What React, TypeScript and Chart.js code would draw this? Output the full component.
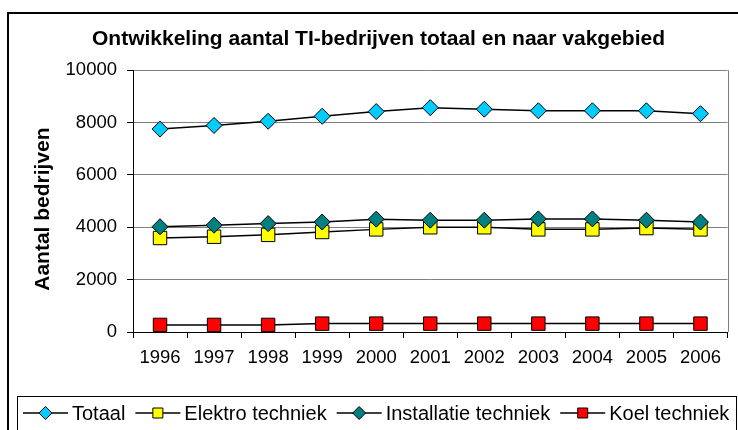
import React, { useEffect, useRef } from "react";
import { Chart, registerables } from "chart.js";

Chart.register(...registerables);

const years = ["1996", "1997", "1998", "1999", "2000", "2001", "2002", "2003", "2004", "2005", "2006"];
const totaal = [7750, 7890, 8050, 8240, 8420, 8570, 8510, 8450, 8450, 8450, 8340];
const elektro = [3590, 3640, 3710, 3820, 3920, 4000, 4000, 3920, 3920, 3970, 3920];
const installatie = [4020, 4080, 4140, 4200, 4310, 4270, 4270, 4320, 4320, 4270, 4200];
const koel = [270, 270, 270, 320, 320, 320, 320, 320, 320, 320, 320];

const seriesNames = ["Totaal", "Elektro techniek", "Installatie techniek", "Koel techniek"];
const seriesColors = ["#00CCFF", "#FFFF00", "#008080", "#FF0000"];
const seriesShapes = ["rectRot", "rect", "rectRot", "rect"];

const titleText = "Ontwikkeling aantal TI-bedrijven totaal en naar vakgebied";
const yTitle = "Aantal bedrijven";
const FONT = "'Liberation Sans', Arial, sans-serif";

const framePlugin = {
  id: "frame",
  afterDraw(chart: any) {
    const ctx = chart.ctx;
    const ca = chart.chartArea;
    ctx.save();
    // plot area right border
    ctx.strokeStyle = "#808080";
    ctx.lineWidth = 1;
    ctx.beginPath();
    ctx.moveTo(Math.round(ca.right) + 0.5, ca.top);
    ctx.lineTo(Math.round(ca.right) + 0.5, ca.bottom);
    ctx.stroke();
    // y axis title
    ctx.save();
    ctx.translate(43, (ca.top + ca.bottom) / 2 + 8);
    ctx.rotate(-Math.PI / 2);
    ctx.font = `bold 21px ${FONT}`;
    ctx.textAlign = "center";
    ctx.textBaseline = "middle";
    ctx.fillStyle = "#000";
    ctx.fillText(yTitle, 0, 0);
    ctx.restore();
    // outer border
    ctx.strokeStyle = "#000";
    ctx.lineWidth = 2;
    ctx.strokeRect(8, 13, 740, 440);
    // legend box
    ctx.lineWidth = 1;
    ctx.strokeRect(17.5, 396.5, 719, 60);
    // legend items
    ctx.font = `20px ${FONT}`;
    ctx.textBaseline = "middle";
    ctx.fillStyle = "#000";
    let x = 23;
    const y = 413;
    for (let i = 0; i < seriesNames.length; i++) {
      ctx.strokeStyle = "#000";
      ctx.lineWidth = 1.5;
      ctx.beginPath();
      ctx.moveTo(x, y);
      ctx.lineTo(x + 45, y);
      ctx.stroke();
      ctx.fillStyle = seriesColors[i];
      ctx.strokeStyle = "#000";
      ctx.lineWidth = 1;
      const cx = x + 22.5;
      ctx.beginPath();
      if (seriesShapes[i] === "rectRot") {
        const r = 6.5;
        ctx.moveTo(cx - r, y);
        ctx.lineTo(cx, y - r);
        ctx.lineTo(cx + r, y);
        ctx.lineTo(cx, y + r);
        ctx.closePath();
      } else {
        ctx.rect(cx - 5, y - 5, 10, 10);
      }
      ctx.fill();
      ctx.stroke();
      ctx.fillStyle = "#000";
      ctx.fillText(seriesNames[i], x + 49, y + 1);
      x += 49 + ctx.measureText(seriesNames[i]).width + 10;
    }
    ctx.restore();
  },
};

export default function App() {
  const ref = useRef<HTMLCanvasElement>(null);
  useEffect(() => {
    if (!ref.current) return;
    const data = [totaal, elektro, installatie, koel];
    const chart = new Chart(ref.current, {
      type: "line",
      data: {
        labels: years,
        datasets: data.map((d, i) => ({
          label: seriesNames[i],
          data: d,
          borderColor: "#000",
          borderWidth: 1.5,
          backgroundColor: seriesColors[i],
          pointBackgroundColor: seriesColors[i],
          pointBorderColor: "#000",
          pointBorderWidth: 1,
          pointStyle: seriesShapes[i] as any,
          pointRadius: seriesShapes[i] === "rect" ? 9.5 : 8,
          tension: 0,
          order: i === 2 ? 0 : i + 1,
        })),
      },
      options: {
        responsive: false,
        animation: false,
        layout: { padding: { left: 24, right: 5, top: 10, bottom: 0 } },
        plugins: {
          legend: { display: false },
          tooltip: { enabled: false },
          title: {
            display: true,
            text: titleText,
            color: "#000",
            font: { family: FONT, size: 21, weight: "bold" },
            padding: { top: 17, bottom: 18 },
          },
        },
        scales: {
          x: {
            offset: true,
            grid: { offset: true, drawOnChartArea: false, tickLength: 6, color: "#000", tickColor: "#000" },
            border: { color: "#000", width: 1 },
            ticks: { color: "#000", font: { family: FONT, size: 18.5 }, padding: 9, maxRotation: 0 },
            afterFit: (s: any) => { s.height = 98; },
          },
          y: {
            min: 0,
            max: 10000,
            ticks: {
              stepSize: 2000,
              color: "#000",
              font: { family: FONT, size: 18.5 },
              padding: 10,
              callback: (v: any) => String(v),
            },
            grid: { color: "#808080", tickColor: "#000", tickLength: 6, lineWidth: 1 },
            border: { color: "#000", width: 1 },
            afterFit: (s: any) => { s.width = 109; },
          },
        },
      },
      plugins: [framePlugin],
    });
    return () => chart.destroy();
  }, []);
  return (
    <div style={{ position: "absolute", left: 0, top: 0, width: 738, height: 430, background: "#fff" }}>
      <canvas ref={ref} width={738} height={430} />
    </div>
  );
}
